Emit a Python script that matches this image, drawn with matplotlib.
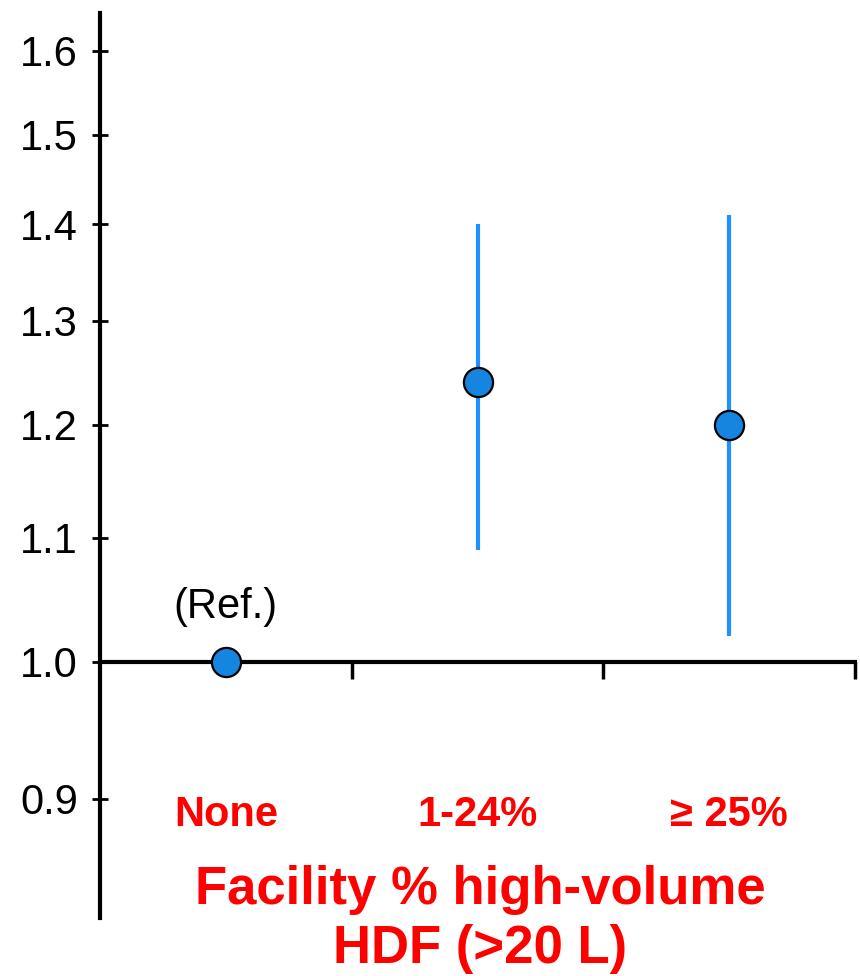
import matplotlib.pyplot as plt
import numpy as np
from matplotlib.ticker import FixedLocator, FormatStrFormatter, NullLocator

plt.rcParams['font.family'] = ['Liberation Sans', 'DejaVu Sans']

categories = ["None", "1-24%", "\u2265 25%"]
hazard_ratio = [1.00, 1.24, 1.20]
ci_lower = [1.00, 1.09, 1.02]
ci_upper = [1.00, 1.40, 1.41]
y_ticks = [0.9, 1.0, 1.1, 1.2, 1.3, 1.4, 1.5, 1.6]

RED = "#ff0000"
POINT = "#1585e0"
LINE = "#1e90ff"


def main():
    fig = plt.figure(figsize=(8.6, 9.76), dpi=100)
    ax = fig.add_axes([0.1163, 0.0594, 0.8779, 0.9273])

    x = np.arange(len(categories)) + 0.5
    est = np.array(hazard_ratio)
    lo = np.array(ci_lower)
    hi = np.array(ci_upper)

    # confidence intervals only for the non-reference groups
    has_ci = hi > lo
    ax.vlines(x[has_ci], lo[has_ci], hi[has_ci], color=LINE, lw=3, zorder=2)
    ax.plot(x, est, "o", ms=21, mfc=POINT, mec="black", mew=1.6,
            zorder=3, clip_on=False)
    ax.text(x[0], 1.043, "(Ref.)", ha="center", va="center", fontsize=30)

    ax.set_yscale("log")
    ax.set_ylim(0.821, 1.647)
    ax.set_xlim(0, len(categories))
    ax.yaxis.set_major_locator(FixedLocator(y_ticks))
    ax.yaxis.set_major_formatter(FormatStrFormatter("%.1f"))
    ax.yaxis.set_minor_locator(NullLocator())
    ax.tick_params(axis="y", direction="inout", length=12, width=2,
                   labelsize=30, pad=10)

    ax.set_xticks(np.arange(1, len(categories) + 1))
    ax.set_xticklabels([])
    ax.tick_params(axis="x", direction="out", length=12, width=2.5)

    for s in ("top", "right"):
        ax.spines[s].set_visible(False)
    ax.spines["left"].set_linewidth(3)
    ax.spines["bottom"].set_linewidth(3)
    ax.spines["bottom"].set_position(("data", 1.0))

    for xi, name in zip(x, categories):
        ax.text(xi, 0.889, name, ha="center", va="center", color=RED,
                fontsize=30, fontweight="bold")

    fig.text(0.558, 0.058, "Facility % high-volume\nHDF (>20 L)",
             ha="center", va="center", color=RED, fontsize=38,
             fontweight="bold", linespacing=1.24)

    fig.savefig("out.png", dpi=100, facecolor="white")


if __name__ == "__main__":
    main()
